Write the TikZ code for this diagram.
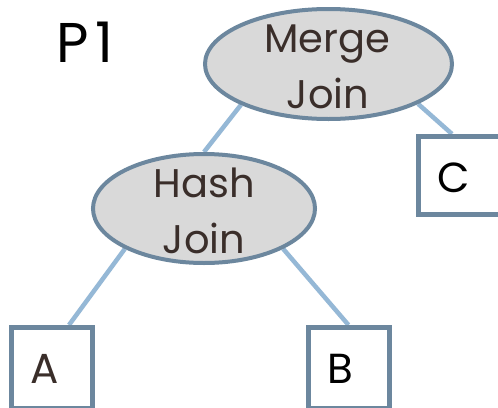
\documentclass[tikz,border=0pt]{standalone}
\usepackage{fontspec}
\setmainfont{Poppins}
\usetikzlibrary{shapes.geometric,calc,backgrounds}
\definecolor{ovalfill}{HTML}{D9D9D9}
\definecolor{framecol}{HTML}{6C879E}
\definecolor{linkcol}{HTML}{95B8D6}
\definecolor{inkbrown}{HTML}{3A2E2A}
\begin{document}
\begin{tikzpicture}[x=1pt,y=-1pt,
  oval/.style={ellipse, draw=framecol, fill=ovalfill, line width=4pt, inner sep=0pt},
  leaf/.style={rectangle, draw=framecol, fill=white, line width=5pt, inner sep=0pt,
               minimum width=81, minimum height=81},
  opname/.style={anchor=base, inner sep=0pt, text=inkbrown, font=\fontsize{40}{40}\selectfont},
  leafname/.style={anchor=base, inner sep=0pt, font=\fontsize{42}{42}\selectfont},
  title/.style={anchor=base, inner sep=0pt, font=\fontsize{56}{56}\selectfont},
  link/.style={draw=linkcol, line width=4.5pt}]
\clip (0,0) rectangle (498,407);

% operator ovals
\node[oval, minimum width=247, minimum height=110] (merge) at (328.5,64) {};
\node[oval, minimum width=222, minimum height=109] (hash) at (204,208.5) {};

% base relations
\node[leaf] (a) at (52,368) {};
\node[leaf] (b) at (348.5,368) {};
\node[leaf, minimum width=84, minimum height=78] (c) at (460,175.5) {};

% white page and tree edges, kept behind the shapes
\begin{scope}[on background layer]
  \fill[white] (0,0) rectangle (498,407);
  \draw[link] (merge.205) -- (hash.north);
  \draw[link] (merge.336) -- ($(c.north)+(-8,0)$);
  \draw[link] (hash.207) -- ($(a.north)+(17,0)$);
  \draw[link] (hash.333) -- (b.north);
\end{scope}

% labels
\node[opname] (mergetop) at (327,52) {Merge};
\node[opname] (mergebot) at (328,108) {Join};
\node[opname] (hashtop) at (204,197) {Hash};
\node[opname] (hashbot) at (204,253) {Join};
\node[leafname, text=inkbrown] (alabel) at (45,383) {A};
\node[leafname] (blabel) at (340,383) {B};
\node[leafname] (clabel) at (454,192) {C};
\node[title] (p1) at (85,62) {P\kern6pt1};
\end{tikzpicture}
\end{document}
